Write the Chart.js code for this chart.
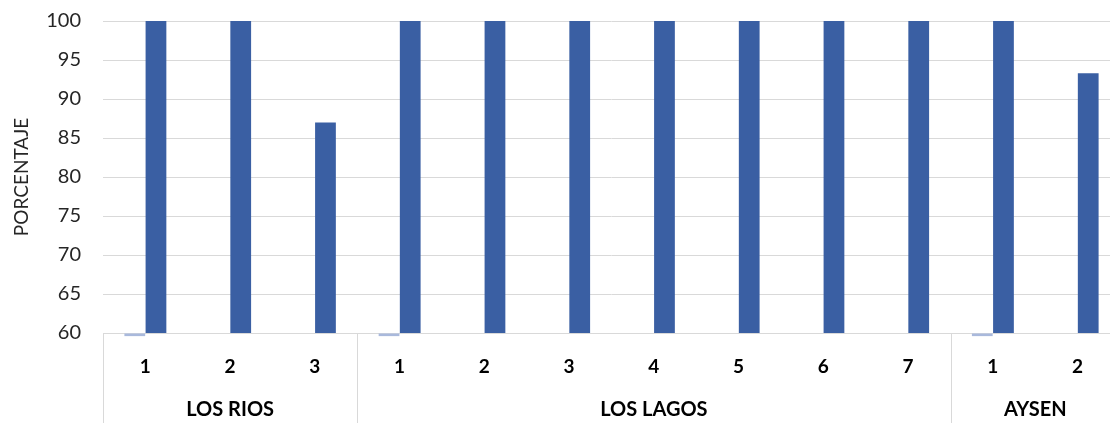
<!DOCTYPE html>
<html lang="es">
<head>
<meta charset="UTF-8">
<title>Porcentaje por región</title>
<script src="https://cdn.jsdelivr.net/npm/chart.js"></script>
<style>
  html, body { margin: 0; padding: 0; background: #fff; overflow: hidden; }
  #wrap { width: 1120px; height: 423px; }
</style>
</head>
<body>
<div id="wrap"><canvas id="grafico" width="1120" height="423"></canvas></div>
<script>
const categorias = ['1', '2', '3', '1', '2', '3', '4', '5', '6', '7', '1', '2'];
const grupos = ['LOS RIOS', 'LOS LAGOS', 'AYSEN'];
const tamGrupos = [3, 7, 2];
const serieClara = [59.6, null, null, 59.6, null, null, null, null, null, null, 59.6, null];
const serieOscura = [100, 100, 87, 100, 100, 100, 100, 100, 100, 100, 100, 93.3];
const ticksY = [60, 65, 70, 75, 80, 85, 90, 95, 100];

const fuente = 'Lato, "Open Sans", sans-serif';
const gris = '#D9D9D9';

// etiquetas de grupo y separadores debajo del eje x
const gruposPlugin = {
  id: 'grupos',
  afterDraw(chart) {
    const ctx = chart.ctx;
    const x = chart.scales.x;
    const area = chart.chartArea;
    const paso = x.getPixelForValue(1) - x.getPixelForValue(0);
    ctx.save();
    ctx.strokeStyle = gris;
    ctx.lineWidth = 1;
    let ini = 0;
    const bordes = [0];
    tamGrupos.forEach(n => { ini += n; bordes.push(ini); });
    bordes.forEach(b => {
      const px = Math.round(x.getPixelForValue(0) - paso / 2 + b * paso) + 0.5;
      ctx.beginPath();
      ctx.moveTo(px, area.bottom);
      ctx.lineTo(px, chart.height);
      ctx.stroke();
    });
    ctx.fillStyle = '#000';
    ctx.font = 'bold 20px ' + fuente;
    ctx.textAlign = 'center';
    ctx.textBaseline = 'middle';
    grupos.forEach((g, i) => {
      const a = bordes[i], b = bordes[i + 1];
      const cx = x.getPixelForValue(0) - paso / 2 + (a + b) / 2 * paso;
      ctx.fillText(g, cx, 410);
    });
    ctx.restore();
  }
};

new Chart(document.getElementById('grafico'), {
  type: 'bar',
  data: {
    labels: categorias,
    datasets: [
      {
        data: serieClara,
        backgroundColor: '#A9B9DC',
        categoryPercentage: 0.5,
        barPercentage: 0.98,
        base: 60,
        clip: false
      },
      {
        data: serieOscura,
        backgroundColor: '#3A5FA3',
        categoryPercentage: 0.5,
        barPercentage: 0.98
      }
    ]
  },
  options: {
    responsive: false,
    animation: false,
    layout: { padding: { top: 21, right: 0, left: 0, bottom: 0 } },
    plugins: { legend: { display: false }, tooltip: { enabled: false } },
    scales: {
      x: {
        grid: { display: false, drawTicks: false },
        border: { color: gris },
        ticks: {
          color: '#000',
          font: { family: fuente, size: 19, weight: 'bold' },
          padding: 22,
          maxRotation: 0
        },
        afterFit(s) { s.height = 90; }
      },
      y: {
        min: 60,
        max: 100,
        afterBuildTicks(s) { s.ticks = ticksY.map(v => ({ value: v })); },
        grid: { color: gris, drawTicks: false },
        border: { display: false },
        ticks: {
          color: '#262626',
          font: { family: fuente, size: 20 },
          padding: 22
        },
        title: {
          display: true,
          text: 'PORCENTAJE',
          color: '#262626',
          font: { family: fuente, size: 19 },
          padding: { top: 10, bottom: 0 }
        },
        afterFit(s) { s.width = 103; s.paddingTop = 0; s.paddingBottom = 0; }
      }
    }
  },
  plugins: [gruposPlugin]
});
</script>
</body>
</html>
